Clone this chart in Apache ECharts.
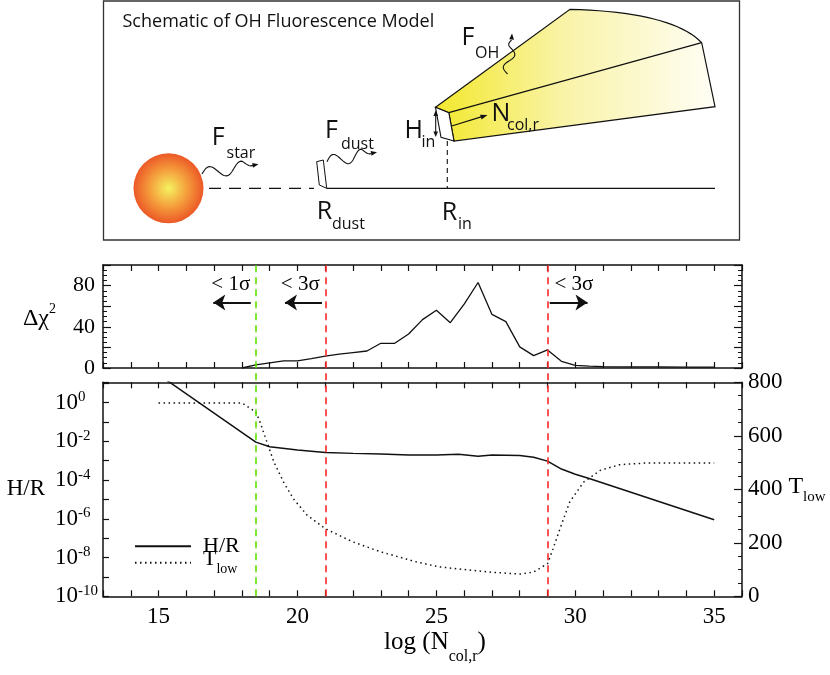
<!DOCTYPE html>
<html>
<head>
<meta charset="utf-8">
<script src="https://cdn.jsdelivr.net/npm/echarts@6/dist/echarts.min.js"></script>
<style>
  html, body { margin: 0; padding: 0; background: #fff; }
  #chart { width: 830px; height: 675px; }
</style>
</head>
<body>
<div id="chart"></div>
<script>
// delta chi^2 curve
const chiX = [18, 18.5, 19.5, 20, 20.5, 21, 21.5, 22, 22.5, 23, 23.5, 24, 24.5, 25, 25.5, 26, 26.5, 27, 27.5, 28, 28.5, 29, 29.5, 30, 30.5, 31, 32, 33, 34, 35];
const chiY = [0, 3, 7, 7, 9, 11.5, 13.5, 15, 16.5, 24, 24, 33, 47, 56, 44, 62, 83, 52, 45, 20.5, 12, 17.5, 6.5, 2.6, 1.8, 1.4, 1.1, 1.0, 0.9, 0.8];

// H/R, stored as log10
const hrX = [15, 18.5, 19, 20, 21, 22, 23, 24, 25, 25.8, 26.5, 27, 28, 28.5, 29, 29.5, 30, 30.5, 35];
const hrLog = [1.45, -2.04, -2.28, -2.44, -2.57, -2.62, -2.65, -2.7, -2.71, -2.66, -2.77, -2.7, -2.73, -2.82, -3.02, -3.43, -3.7, -3.92, -6.05];

// T_low in K
const tX = [15, 18, 18.5, 18.65, 18.9, 19.15, 19.5, 19.85, 20.35, 21, 22, 23, 24.3, 25.1, 26.3, 27, 28, 28.5, 29, 29.2, 29.45, 29.8, 30.3, 30.9, 31.6, 32.5, 35];
const tLow = [723, 723, 689, 652, 577, 502, 427, 365, 303, 253, 203, 166, 128, 110, 97, 90, 83, 91, 122, 178, 253, 353, 427, 471, 492, 498, 498];

// vertical limits and their notes
const guideX = [18.5, 21, 29];
const guideColor = ['#5fe000', '#ff2a2a', '#ff2a2a'];
const noteText = ['< 1σ', '< 3σ', '< 3σ'];
const noteX = [17.6, 20.1, 29.95];
const noteY = [81, 81, 81];
const arrowFrom = [18.32, 20.88, 29.08];
const arrowTo = [16.97, 19.55, 30.44];
const arrowY = 63.5;

const SERIF = '"Liberation Serif", "Times New Roman", serif';
const SANS = '"Open Sans", "Noto Sans", sans-serif';
const INK = '#111';

const zip = (xs, ys) => xs.map((x, i) => [x, ys[i]]);

const xAx = (grid, pos, labels, extra) => Object.assign({
  type: 'value', gridIndex: grid, position: pos, min: 13, max: 36, interval: 1,
  axisLine: { show: true, onZero: false, lineStyle: { color: INK, width: 1.5 } },
  axisTick: { show: true, inside: true, length: 6, lineStyle: { color: INK, width: 1.2 } },
  axisLabel: {
    show: labels, margin: 9, color: '#000', fontFamily: SERIF, fontSize: 23,
    formatter: v => (v % 5 === 0 ? String(v) : ''),
  },
  splitLine: { show: false },
}, extra || {});

// ---- schematic helpers (decoration only)
const wave = (x0, y0, x1, y1, amp, cycles) => {
  const dx = x1 - x0, dy = y1 - y0, len = Math.hypot(dx, dy);
  const nx = -dy / len, ny = dx / len;
  const pts = [];
  for (let i = 0; i <= 48; i++) {
    const t = i / 48;
    const env = t < 0.8 ? 1 : Math.max(0, (1 - t) / 0.2);
    const o = -amp * Math.sin(t * cycles * 2 * Math.PI) * env;
    pts.push([x0 + dx * t + nx * o, y0 + dy * t + ny * o]);
  }
  return pts;
};
const head = (tx, ty, fx, fy, L, W) => {
  const dx = tx - fx, dy = ty - fy, len = Math.hypot(dx, dy);
  const ux = dx / len, uy = dy / len;
  const bx = tx - ux * L, by = ty - uy * L;
  return { type: 'polygon', shape: { points: [[tx, ty], [bx - uy * W, by + ux * W], [bx + uy * W, by - ux * W]] }, style: { fill: INK } };
};
const quad = (p0, c, p1, n) => {
  const pts = [];
  for (let i = 0; i <= n; i++) {
    const t = i / n;
    pts.push([
      (1 - t) * (1 - t) * p0[0] + 2 * (1 - t) * t * c[0] + t * t * p1[0],
      (1 - t) * (1 - t) * p0[1] + 2 * (1 - t) * t * c[1] + t * t * p1[1],
    ]);
  }
  return pts;
};
const txt = (s, x, base, size) => ({
  type: 'text', x: x, y: base - 0.3 * size,
  style: { text: s, fontFamily: SANS, fontSize: size, fill: INK, align: 'left', verticalAlign: 'middle' },
});
const seg = (x1, y1, x2, y2, w, dash) => ({
  type: 'line', shape: { x1, y1, x2, y2 },
  style: { stroke: INK, lineWidth: w || 1.2, lineDash: dash || null },
});

const fA = [435.5, 107.3], fB = [448.8, 112.7], fC = [454, 141], fD = [441, 137.3];
const fE = [570, 9.3], fF = [701.7, 42.7], fG = [715, 106.7];
const fanPts = [fA].concat(quad(fE, [672, 12], fF, 20), [fG, fC, fB]);

const starWave = wave(202, 174, 253, 165.2, 6, 1.6);
const dustWave = wave(327, 161.7, 371.5, 153.3, 6, 1.6);
const ohWave = wave(507.5, 74, 511.6, 40, 5, 1.3);

const schematic = [
  { type: 'rect', shape: { x: 103.5, y: 1, width: 636, height: 239 }, style: { fill: '#fff', stroke: '#333', lineWidth: 1.3 } },
  txt('Schematic of OH Fluorescence Model', 122.5, 27, 18),
  {
    type: 'circle', shape: { cx: 168.5, cy: 188.3, r: 35 },
    style: {
      fill: new echarts.graphic.RadialGradient(0.5, 0.5, 0.5, [
        { offset: 0, color: '#f4f260' },
        { offset: 0.5, color: '#f5a33e' },
        { offset: 1, color: '#ec5826' },
      ]),
    },
  },
  seg(209, 188.3, 314, 188.3, 1.2, [12, 8]),
  seg(326.7, 188.3, 715, 188.3, 1.2),
  { type: 'polygon', shape: { points: [[316.7, 161.7], [323.3, 160], [326.7, 188.3], [319.3, 185]] }, style: { fill: '#fff', stroke: INK, lineWidth: 1 } },
  seg(447.3, 141, 447.3, 188.3, 1.1, [5, 4]),
  {
    type: 'polygon', shape: { points: fanPts },
    style: {
      stroke: INK, lineWidth: 1.2,
      fill: new echarts.graphic.LinearGradient(0, 0, 1, 0, [
        { offset: 0, color: '#f3e82c' },
        { offset: 0.45, color: '#f9f3a6' },
        { offset: 1, color: '#fffef6' },
      ]),
    },
  },
  seg(fB[0], fB[1], fF[0], fF[1], 1.2),
  { type: 'polygon', shape: { points: [fA, fB, fC, fD] }, style: { fill: '#fff', stroke: INK, lineWidth: 1.1 } },
  { type: 'polyline', shape: { points: starWave }, style: { stroke: INK, lineWidth: 1.1, fill: null } },
  head(258.5, 164.2, 253, 165.2, 6, 2.4),
  { type: 'polyline', shape: { points: dustWave }, style: { stroke: INK, lineWidth: 1.1, fill: null } },
  head(377, 152.2, 371.5, 153.3, 6, 2.4),
  { type: 'polyline', shape: { points: ohWave }, style: { stroke: INK, lineWidth: 1.1, fill: null } },
  head(512, 33.5, 511.6, 40, 6, 2.4),
  seg(435.7, 115, 435.7, 132.5, 1.1),
  head(435.7, 110.5, 435.7, 116, 5.5, 2.3),
  head(435.7, 137, 435.7, 131.5, 5.5, 2.3),
  seg(451.7, 126, 482, 116.6, 1.1),
  head(487.5, 115, 481.5, 116.9, 7, 2.6),
  txt('F', 211.7, 145.5, 25), txt('star', 226.5, 158, 16),
  txt('F', 325, 138.5, 25), txt('dust', 341, 149.5, 16),
  txt('R', 316.7, 219.5, 25), txt('dust', 332, 229.5, 16),
  txt('R', 441.7, 220, 25), txt('in', 458, 229.5, 16),
  txt('H', 404.5, 138, 25), txt('in', 421.5, 147.5, 16),
  txt('N', 491.5, 121.5, 25), txt('col,r', 507, 130.5, 16),
  txt('F', 461.5, 45.5, 25), txt('OH', 475, 58, 16),
];

const chart = echarts.init(document.getElementById('chart'));

chart.setOption({
  animation: false,
  backgroundColor: '#fff',
  textStyle: { fontFamily: SERIF },
  grid: [
    { left: 103, top: 265, width: 639, height: 103 },
    { left: 103, top: 382.3, width: 639, height: 214 },
    { left: 103, top: 265, width: 639, height: 331.3 },
  ],
  legend: {
    orient: 'vertical', left: 129, top: 530.3,
    itemWidth: 56, itemHeight: 12, itemGap: -8.6,
    itemStyle: { color: 'rgba(0,0,0,0)', borderWidth: 0 },
    data: ['H/R', 'T_low'],
    formatter: n => (n === 'T_low' ? '{t|T}{s|low}' : '{h|H/R}'),
    textStyle: {
      color: '#000', fontFamily: SERIF, padding: [0, 0, 0, 7],
      rich: {
        h: { fontFamily: SERIF, fontSize: 22, lineHeight: 28, color: '#000' },
        t: { fontFamily: SERIF, fontSize: 22, lineHeight: 28, verticalAlign: 'top', color: '#000' },
        s: { fontFamily: SERIF, fontSize: 14, lineHeight: 14, verticalAlign: 'bottom', color: '#000' },
      },
    },
  },
  xAxis: [
    xAx(0, 'bottom', false),
    xAx(0, 'top', false),
    xAx(1, 'bottom', true, {
      name: '{a|log (N}{s|col,r}{a|)}', nameLocation: 'middle', nameGap: 34,
      nameTextStyle: {
        padding: [0, 0, 0, 25],
        rich: {
          a: { fontFamily: SERIF, fontSize: 25, lineHeight: 34, verticalAlign: 'top', color: '#000' },
          s: { fontFamily: SERIF, fontSize: 16, lineHeight: 16, verticalAlign: 'bottom', color: '#000' },
        },
      },
    }),
    xAx(1, 'top', false),
    { type: 'value', gridIndex: 2, min: 13, max: 36, show: false },
  ],
  yAxis: [
    {
      type: 'value', gridIndex: 0, position: 'left', min: 0, max: 100, interval: 20,
      name: '{a|Δχ}{p|2}', nameLocation: 'middle', nameRotate: 0, nameGap: 47,
      nameTextStyle: {
        align: 'right',
        rich: {
          a: { fontFamily: SERIF, fontSize: 24, lineHeight: 28, verticalAlign: 'bottom', color: '#000' },
          p: { fontFamily: SERIF, fontSize: 14, lineHeight: 14, verticalAlign: 'top', color: '#000' },
        },
      },
      axisLine: { show: true, lineStyle: { color: INK, width: 1.5 } },
      axisTick: { inside: true, length: 8, lineStyle: { color: INK, width: 1.2 } },
      minorTick: { show: true, splitNumber: 4, length: 4, lineStyle: { color: INK, width: 1 } },
      axisLabel: { margin: 8, color: '#000', fontFamily: SERIF, fontSize: 22, formatter: v => (v % 40 === 0 && v < 100 ? String(v) : '') },
      splitLine: { show: false },
    },
    {
      type: 'value', gridIndex: 0, position: 'right', min: 0, max: 100, interval: 20,
      axisLine: { show: true, lineStyle: { color: INK, width: 1.5 } },
      axisTick: { inside: true, length: 8, lineStyle: { color: INK, width: 1.2 } },
      minorTick: { show: true, splitNumber: 4, length: 4, lineStyle: { color: INK, width: 1 } },
      axisLabel: { show: false },
      splitLine: { show: false },
    },
    {
      type: 'value', gridIndex: 1, position: 'left', min: -10, max: 1.05, interval: 1,
      name: 'H/R', nameLocation: 'middle', nameRotate: 0, nameGap: 58,
      nameTextStyle: { align: 'right', fontFamily: SERIF, fontSize: 23, color: '#000' },
      axisLine: { show: true, lineStyle: { color: INK, width: 1.5 } },
      axisTick: { inside: true, length: 6, lineStyle: { color: INK, width: 1.2 } },
      axisLabel: {
        margin: 48, align: 'left', color: '#000',
        formatter: v => {
          const r = Math.round(v);
          if (Math.abs(v - r) > 1e-6 || r % 2 !== 0) return '';
          return '{b|10}{e|' + (r === 0 ? '0' : String(r)) + '}';
        },
        rich: {
          b: { fontFamily: SERIF, fontSize: 23, lineHeight: 26, color: '#000' },
          e: { fontFamily: SERIF, fontSize: 15, lineHeight: 15, verticalAlign: 'top', color: '#000' },
        },
      },
      splitLine: { show: false },
    },
    {
      type: 'value', gridIndex: 1, position: 'right', min: 0, max: 800, interval: 200,
      name: '{a|T}{s|low}', nameLocation: 'middle', nameRotate: 0, nameGap: 46,
      nameTextStyle: {
        align: 'left',
        rich: {
          a: { fontFamily: SERIF, fontSize: 24, lineHeight: 30, verticalAlign: 'top', color: '#000' },
          s: { fontFamily: SERIF, fontSize: 15, lineHeight: 15, verticalAlign: 'bottom', color: '#000' },
        },
      },
      axisLine: { show: true, lineStyle: { color: INK, width: 1.5 } },
      axisTick: { inside: true, length: 8, lineStyle: { color: INK, width: 1.2 } },
      minorTick: { show: true, splitNumber: 4, length: 4, lineStyle: { color: INK, width: 1 } },
      axisLabel: { margin: 6, color: '#000', fontFamily: SERIF, fontSize: 23 },
      splitLine: { show: false },
    },
    { type: 'value', gridIndex: 2, min: 0, max: 1, show: false },
  ],
  series: [
    {
      name: 'chi2', type: 'line', xAxisIndex: 0, yAxisIndex: 0,
      data: zip(chiX, chiY), symbol: 'none',
      lineStyle: { color: INK, width: 1.3 },
      markLine: {
        silent: true, symbol: ['none', 'arrow'], symbolSize: 12,
        label: { show: false },
        lineStyle: { color: INK, width: 2, type: 'solid' },
        data: arrowFrom.map((x, i) => [{ coord: [x, arrowY] }, { coord: [arrowTo[i], arrowY] }]),
      },
      markPoint: {
        silent: true, symbol: 'circle', symbolSize: 1,
        itemStyle: { color: 'rgba(0,0,0,0)' },
        label: { show: true, position: 'inside', formatter: '{b}', color: '#000', fontFamily: SERIF, fontSize: 21 },
        data: noteText.map((t, i) => ({ name: t, coord: [noteX[i], noteY[i]] })),
      },
    },
    {
      name: 'H/R', type: 'line', xAxisIndex: 2, yAxisIndex: 2,
      data: zip(hrX, hrLog), symbol: 'none',
      lineStyle: { color: INK, width: 1.5 },
      itemStyle: { color: INK },
    },
    {
      name: 'T_low', type: 'line', xAxisIndex: 2, yAxisIndex: 3,
      data: zip(tX, tLow), symbol: 'none',
      lineStyle: { color: INK, width: 1.5, type: [1.5, 3.5] },
      itemStyle: { color: INK },
    },
    {
      name: 'limits', type: 'line', xAxisIndex: 4, yAxisIndex: 4, data: [],
      markLine: {
        silent: true, symbol: ['none', 'none'],
        label: { show: false },
        lineStyle: { width: 1.6, type: [7, 5] },
        data: guideX.map((x, i) => ({ xAxis: x, lineStyle: { color: guideColor[i] } })),
      },
    },
  ],
  graphic: schematic,
});
</script>
</body>
</html>
